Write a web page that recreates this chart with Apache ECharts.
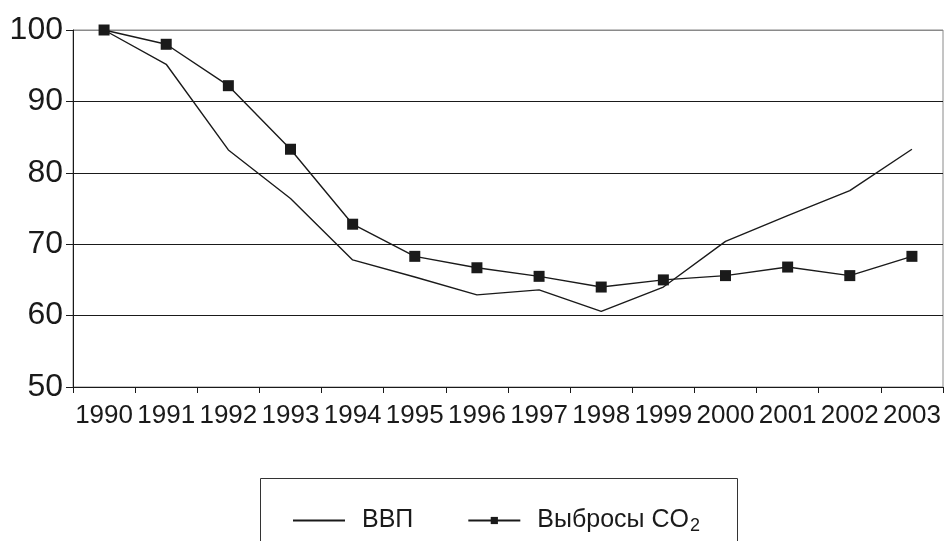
<!DOCTYPE html>
<html>
<head>
<meta charset="utf-8">
<script src="https://cdn.jsdelivr.net/npm/echarts@6/dist/echarts.min.js"></script>
<style>
html,body{margin:0;padding:0;background:#fff;}
#chart{width:952px;height:541px;}
</style>
</head>
<body>
<div id="chart"></div>
<script>
const years = ['1990','1991','1992','1993','1994','1995','1996','1997','1998','1999','2000','2001','2002','2003'];
const gdp = [100, 95.2, 83.2, 76.4, 67.8, 65.4, 62.9, 63.6, 60.6, 64.0, 70.4, 74.0, 77.5, 83.3];
const co2 = [100, 98.0, 92.2, 83.3, 72.8, 68.3, 66.7, 65.5, 64.0, 65.0, 65.6, 66.8, 65.6, 68.3];
const seriesNames = ['ВВП', 'Выбросы CO2'];
const yMin = 50, yMax = 100, yStep = 10;

const FONT = '"Liberation Sans", Arial, Helvetica, sans-serif';
const INK = '#1a1a1a';
const chart = echarts.init(document.getElementById('chart'), null, {renderer: 'canvas'});
chart.setOption({
  animation: false,
  backgroundColor: '#fff',
  textStyle: {fontFamily: FONT, color: INK},
  grid: {left: 73, right: 9, top: 30, bottom: 154, show: true, borderColor: '#8a8a8a', borderWidth: 1, backgroundColor: 'transparent'},
  xAxis: {
    type: 'category',
    data: years,
    boundaryGap: true,
    axisLine: {lineStyle: {color: INK, width: 1}},
    axisTick: {show: true, length: 6, interval: 0, lineStyle: {color: INK}},
    axisLabel: {interval: 0, fontSize: 26, color: INK, margin: 16, fontFamily: FONT},
    splitLine: {show: false}
  },
  yAxis: {
    type: 'value',
    min: yMin, max: yMax, interval: yStep,
    axisLine: {show: true, lineStyle: {color: INK, width: 1}},
    axisTick: {show: true, length: 7, lineStyle: {color: INK}},
    axisLabel: {fontSize: 32, color: INK, margin: 10, fontFamily: FONT},
    splitLine: {show: true, lineStyle: {color: [INK, INK, INK, INK, INK, '#8a8a8a'], width: 1}}
  },
  legend: {
    data: [
      {name: seriesNames[0], itemStyle: {color: 'rgba(0,0,0,0)', borderWidth: 0}},
      {name: seriesNames[1]}
    ],
    left: 292, top: 508, padding: 0,
    itemWidth: 52, itemHeight: 9, itemGap: 54,
    textStyle: {fontSize: 25, color: INK, fontFamily: FONT, padding: [0,0,0,12],
      rich: {
        n: {fontSize: 25, fontFamily: FONT, color: INK},
        sub: {fontSize: 18, fontFamily: FONT, color: INK, padding: [12,0,0,1]}
      }
    },
    formatter: function (name) {
      if (name === 'Выбросы CO2') return '{n|Выбросы CO}{sub|2}';
      return '{n|' + name + '}';
    }
  },
  graphic: [{
    type: 'rect', silent: true, z: -1,
    shape: {x: 260.5, y: 478.5, width: 477, height: 80},
    style: {fill: 'none', stroke: '#333', lineWidth: 1}
  }],
  series: [
    {
      name: seriesNames[0], type: 'line', data: gdp,
      symbol: 'none', showSymbol: false,
      lineStyle: {color: INK, width: 1.4},
      itemStyle: {color: INK}
    },
    {
      name: seriesNames[1], type: 'line', data: co2,
      symbol: 'rect', symbolSize: 11,
      lineStyle: {color: INK, width: 1.4},
      itemStyle: {color: INK}
    }
  ]
});
</script>
</body>
</html>
